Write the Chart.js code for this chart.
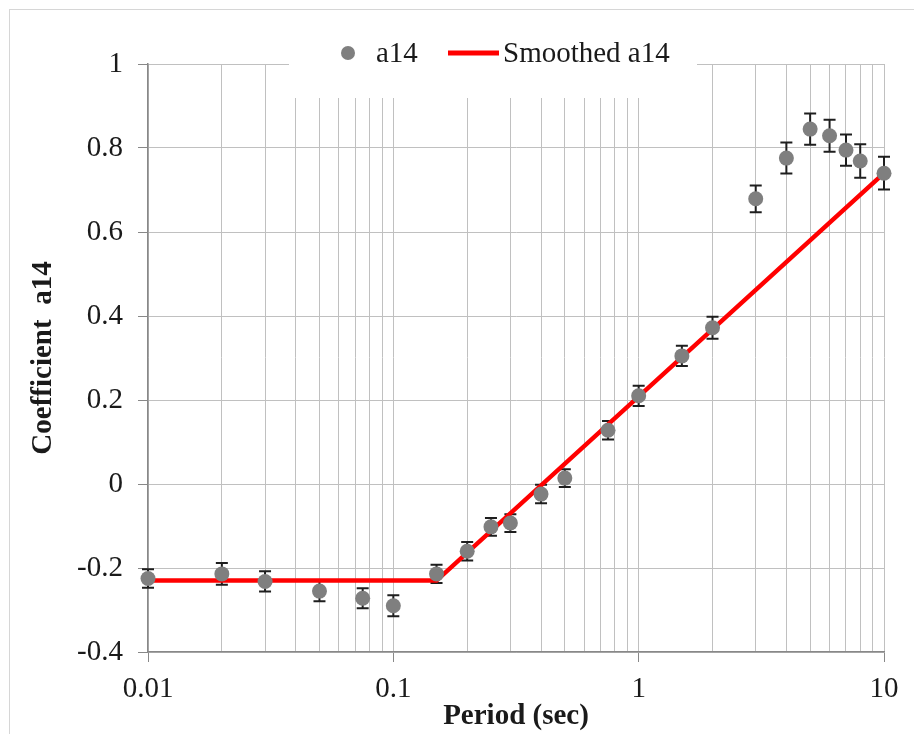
<!DOCTYPE html>
<html>
<head>
<meta charset="utf-8">
<script src="https://cdn.jsdelivr.net/npm/chart.js@4/dist/chart.umd.min.js"></script>
<style>
  html, body { margin: 0; padding: 0; background: #ffffff; }
  #wrap { width: 914px; height: 734px; }
</style>
</head>
<body>
<div id="wrap"><canvas id="c" width="914" height="734"></canvas></div>
<script>
// Spectral periods (sec) and regression coefficient a14 with its standard error
const periods = [0.01, 0.02, 0.03, 0.05, 0.075, 0.1, 0.15, 0.2, 0.25, 0.3, 0.4, 0.5, 0.75, 1, 1.5, 2, 3, 4, 5, 6, 7, 8, 10];
const a14 = [-0.225, -0.214, -0.232, -0.255, -0.272, -0.29, -0.214, -0.16, -0.102, -0.093, -0.024, 0.014, 0.128, 0.21, 0.305, 0.372, 0.679, 0.776, 0.845, 0.829, 0.795, 0.769, 0.74];
const a14Err = [0.022, 0.026, 0.024, 0.024, 0.024, 0.025, 0.022, 0.022, 0.021, 0.021, 0.022, 0.021, 0.022, 0.024, 0.024, 0.026, 0.032, 0.037, 0.037, 0.038, 0.037, 0.04, 0.039];

// Smoothed model: constant at short periods, linear in log(T) beyond the corner
const smoothPeriods = [0.01, 0.15, 10];
const smoothA14 = [-0.23, -0.23, 0.74];

// Axis ticks
const xTickValues = [0.01, 0.02, 0.03, 0.04, 0.05, 0.06, 0.07, 0.08, 0.09,
                     0.1, 0.2, 0.3, 0.4, 0.5, 0.6, 0.7, 0.8, 0.9,
                     1, 2, 3, 4, 5, 6, 7, 8, 9, 10];
const xMajorLabels = ['0.01', '0.1', '1', '10'];
const yTickLabels = ['-0.4', '-0.2', '0', '0.2', '0.4', '0.6', '0.8', '1'];

const FONT = '"Liberation Serif", "Times New Roman", serif';
const FS = 29;
const GRID = '#c0c0c0';
const AXIS = '#888888';
const TEXT = '#1a1a1a';
const MARK = '#7f7f7f';

const frame = {
  id: 'frame',
  beforeDraw(chart) {
    const ctx = chart.ctx;
    ctx.save();
    ctx.fillStyle = '#ffffff';
    ctx.fillRect(0, 0, chart.width, chart.height);
    ctx.strokeStyle = '#d6d6d6';
    ctx.lineWidth = 1;
    ctx.strokeRect(9.5, 9.5, chart.width + 20, chart.height + 20);
    ctx.restore();
  }
};

// Vertical error bars with caps, drawn beneath the markers
const errorBars = {
  id: 'errorBars',
  beforeDatasetsDraw(chart) {
    const ctx = chart.ctx;
    const xs = chart.scales.x, ys = chart.scales.y;
    ctx.save();
    ctx.strokeStyle = '#1e1e1e';
    ctx.lineWidth = 2;
    periods.forEach((p, i) => {
      const x = xs.getPixelForValue(p);
      const yTop = ys.getPixelForValue(a14[i] + a14Err[i]);
      const yBot = ys.getPixelForValue(a14[i] - a14Err[i]);
      ctx.beginPath();
      ctx.moveTo(x, yTop); ctx.lineTo(x, yBot);
      ctx.moveTo(x - 6, yTop); ctx.lineTo(x + 6, yTop);
      ctx.moveTo(x - 6, yBot); ctx.lineTo(x + 6, yBot);
      ctx.stroke();
    });
    ctx.restore();
  }
};

// Legend placed over the top of the plot on a white panel
const topLegend = {
  id: 'topLegend',
  afterDraw(chart) {
    const ctx = chart.ctx;
    const ds = chart.data.datasets;
    const cy = 53;
    ctx.save();
    ctx.fillStyle = '#ffffff';
    ctx.fillRect(289, 20, 408, 78);
    // marker item
    ctx.fillStyle = MARK;
    ctx.beginPath();
    ctx.arc(348, cy, 7, 0, Math.PI * 2);
    ctx.fill();
    ctx.font = FS + 'px ' + FONT;
    ctx.fillStyle = TEXT;
    ctx.textBaseline = 'middle';
    ctx.textAlign = 'left';
    ctx.fillText(ds[0].label, 376, cy + 1);
    // line item
    ctx.strokeStyle = ds[1].borderColor;
    ctx.lineWidth = 5;
    ctx.beginPath();
    ctx.moveTo(448, cy); ctx.lineTo(499, cy);
    ctx.stroke();
    ctx.fillText(ds[1].label, 503, cy + 1);
    ctx.restore();
  }
};

new Chart(document.getElementById('c'), {
  data: {
    datasets: [
      {
        type: 'scatter',
        label: 'a14',
        data: periods.map((p, i) => ({ x: p, y: a14[i] })),
        backgroundColor: MARK,
        borderColor: MARK,
        pointRadius: 7.5,
        pointHoverRadius: 7.5,
        borderWidth: 0,
        clip: false
      },
      {
        type: 'line',
        label: 'Smoothed a14',
        data: smoothPeriods.map((p, i) => ({ x: p, y: smoothA14[i] })),
        borderColor: '#ff0000',
        borderWidth: 4.5,
        pointRadius: 0,
        tension: 0,
        fill: false,
        clip: false
      }
    ]
  },
  options: {
    responsive: false,
    animation: false,
    events: [],
    layout: { padding: { left: 0, right: 30, top: 64, bottom: 0 } },
    plugins: {
      legend: { display: false },
      tooltip: { enabled: false }
    },
    scales: {
      x: {
        type: 'logarithmic',
        min: 0.01,
        max: 10,
        afterFit(s) { s.height = 82; },
        afterBuildTicks(s) {
          s.ticks = xTickValues.map(v => ({ value: v, major: xMajorLabels.includes(String(v)) }));
        },
        grid: {
          color: GRID,
          lineWidth: 1,
          drawTicks: true,
          tickLength: 10,
          tickColor: c => (c.tick && c.tick.major) ? AXIS : 'rgba(0,0,0,0)'
        },
        border: { color: AXIS, width: 1.5 },
        ticks: {
          autoSkip: false,
          maxRotation: 0,
          padding: 10,
          color: TEXT,
          font: { family: FONT, size: FS },
          callback: v => xMajorLabels.includes(String(v)) ? String(v) : ''
        },
        title: {
          display: true,
          text: 'Period (sec)',
          color: TEXT,
          font: { family: FONT, size: FS, weight: 'bold' },
          padding: { top: 0, bottom: 0 }
        }
      },
      y: {
        type: 'linear',
        min: -0.4,
        max: 1,
        afterFit(s) { s.width = 148; },
        grid: {
          color: GRID,
          lineWidth: 1,
          drawTicks: true,
          tickLength: 10,
          tickColor: AXIS
        },
        border: { color: AXIS, width: 1.5 },
        ticks: {
          stepSize: 0.2,
          padding: 15,
          color: TEXT,
          font: { family: FONT, size: FS },
          callback: (v, i) => yTickLabels[i]
        },
        title: {
          display: true,
          text: 'Coefficient  a14',
          color: TEXT,
          font: { family: FONT, size: FS, weight: 'bold' },
          padding: { top: 26, bottom: 0 }
        }
      }
    }
  },
  plugins: [frame, errorBars, topLegend]
});
</script>
</body>
</html>
